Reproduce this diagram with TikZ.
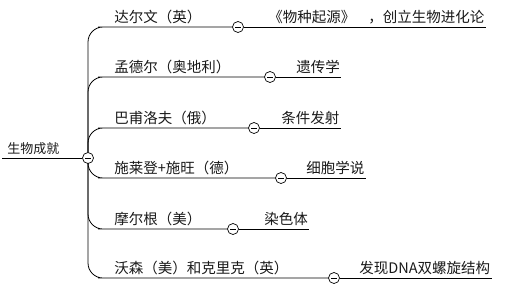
\documentclass[tikz,border=0pt]{standalone}
\usepackage{fontspec}
\setmainfont{Noto Sans CJK SC}
\begin{document}
\begin{tikzpicture}[x=1pt,y=-1pt,line width=0.8pt,
    every node/.style={font=\fontsize{14.5}{16}\selectfont,text=black!90,inner xsep=1pt,inner ysep=3pt,anchor=south west},
    fold/.style={circle,draw,line width=0.7pt,fill=white,minimum size=11pt,inner sep=0pt,anchor=center,
      path picture={\draw[line width=0.7pt] ([xshift=-2.8pt]path picture bounding box.center) -- ([xshift=2.8pt]path picture bounding box.center);}},
    branch/.style={rounded corners=15pt}]
  \useasboundingbox (0,0) rectangle (519,289);
  \node[font=\fontsize{13}{15}\selectfont,inner xsep=5pt] (root) at (2,158) {生物成就};
  \node[fold] (rc) at (88,158) {};
  \draw (root.south west) -- (rc.west);

  \node (dar) at (113,27) {达尔文（英）};
  \node[fold] (darc) at (238,27) {};
  \node (darx) at (267,27) {《物种起源》\hspace{0.9em}，创立生物进化论};
  \draw[branch] (rc.north) |- (dar.south west) -- (darc.west);
  \draw (darc.east) -- (darx.south east);

  \node (men) at (113,77) {孟德尔（奥地利）};
  \node[fold] (menc) at (270,77) {};
  \node (menx) at (295,77) {遗传学};
  \draw[branch] (rc.north) |- (men.south west) -- (menc.west);
  \draw (menc.east) -- (menx.south east);

  \node (pav) at (113,128) {巴甫洛夫（俄）};
  \node[fold] (pavc) at (254,128) {};
  \node (pavx) at (280,128) {条件发射};
  \draw[branch] (rc.north) |- (pav.south west) -- (pavc.west);
  \draw (pavc.east) -- (pavx.south east);

  \node (sch) at (113,178) {施莱登+施旺（德）};
  \node[fold] (schc) at (281,178) {};
  \node (schx) at (305,178) {细胞学说};
  \draw[branch] (rc.south) |- (sch.south west) -- (schc.west);
  \draw (schc.east) -- (schx.south east);

  \node (mor) at (113,229) {摩尔根（美）};
  \node[fold] (morc) at (233,229) {};
  \node (morx) at (263,229) {染色体};
  \draw[branch] (rc.south) |- (mor.south west) -- (morc.west);
  \draw (morc.east) -- (morx.south east);

  \node (wat) at (113,278) {沃森（美）和克里克（英）};
  \node[fold] (watc) at (334,278) {};
  \node (watx) at (358,278) {发现DNA双螺旋结构};
  \draw[branch] (rc.south) |- (wat.south west) -- (watc.west);
  \draw (watc.east) -- (watx.south east);
\end{tikzpicture}
\end{document}
